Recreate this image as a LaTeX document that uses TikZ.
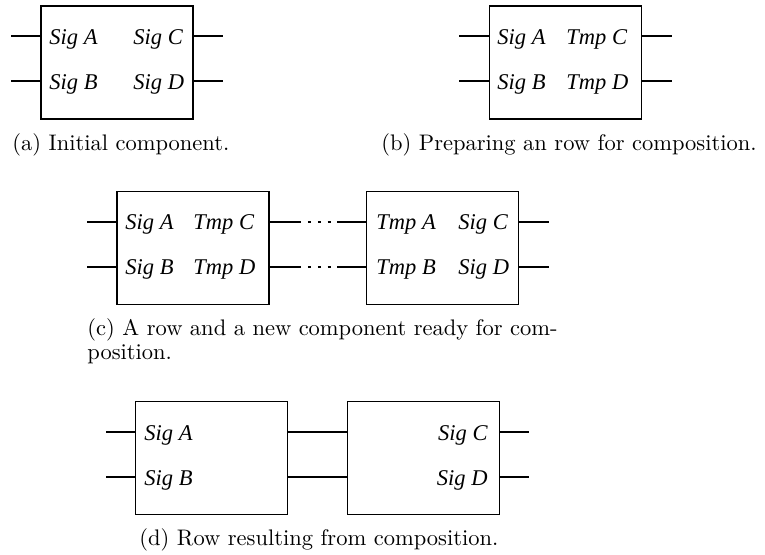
\documentclass[tikz,border=0pt]{standalone}
\usepackage{fontspec}
\newfontfamily\lblfont{Liberation Serif}
\tikzset{
  x=0.4444pt, y=-0.4444pt,
  comp/.style={draw, line width=0.5pt, rectangle, inner sep=0pt,
    minimum width={152*0.4444pt}, minimum height={113*0.4444pt}},
  wire/.style={line width=0.5pt},
  dotwire/.style={line width=0.5pt, dash pattern=on 1.4pt off 3pt},
  lbl/.style={inner sep=0pt, font=\lblfont\itshape\fontsize{10}{12}\selectfont},
  captext/.style={inner sep=0pt, font=\fontsize{10}{12}\selectfont}
}
\begin{document}
\begin{tikzpicture}
\useasboundingbox (0,0) rectangle (765,554);
% ---------- (a) ----------
\node[comp] (a) at (117,62.5) {};
\coordinate (aA) at (11,36);  \coordinate (aB) at (11,81);
\coordinate (aC) at (223,36); \coordinate (aD) at (223,81);
\draw[wire] (aA) -- (a.west |- aA);
\draw[wire] (aB) -- (a.west |- aB);
\draw[wire] (a.east |- aC) -- (aC);
\draw[wire] (a.east |- aD) -- (aD);
\node[lbl, anchor=base west] (aSA) at (49,44) {Sig A};
\node[lbl, anchor=base west] (aSB) at (49,89) {Sig B};
\node[lbl, anchor=base west] (aSC) at (133,44) {Sig C};
\node[lbl, anchor=base west] (aSD) at (133,89) {Sig D};
\node[captext, anchor=base west] (capa) at (12,150) {(a) Initial component.};
% ---------- (b) ----------
\node[comp] (b) at (565.5,62.5) {};
\coordinate (bA) at (459,36);  \coordinate (bB) at (459,81);
\coordinate (bC) at (672,36); \coordinate (bD) at (672,81);
\draw[wire] (bA) -- (b.west |- bA);
\draw[wire] (bB) -- (b.west |- bB);
\draw[wire] (b.east |- bC) -- (bC);
\draw[wire] (b.east |- bD) -- (bD);
\node[lbl, anchor=base west] (bSA) at (497,44) {Sig A};
\node[lbl, anchor=base west] (bSB) at (497,89) {Sig B};
\node[lbl, anchor=base west] (bTC) at (566,44) {Tmp C};
\node[lbl, anchor=base west] (bTD) at (566,89) {Tmp D};
\node[captext, anchor=base west] (capb) at (381,150) {(b) Preparing an row for composition.};
% ---------- (c) ----------
\node[comp] (c1) at (193,248) {};
\node[comp] (c2) at (442.5,248) {};
\coordinate (cA) at (87,222);  \coordinate (cB) at (87,267);
\coordinate (cC) at (549,222); \coordinate (cD) at (549,267);
\coordinate (cu1) at (298,222); \coordinate (cu2) at (337,222);
\coordinate (cl1) at (298,267); \coordinate (cl2) at (337,267);
\draw[wire] (cA) -- (c1.west |- cA);
\draw[wire] (cB) -- (c1.west |- cB);
\draw[wire] (c2.east |- cC) -- (cC);
\draw[wire] (c2.east |- cD) -- (cD);
\draw[wire] (c1.east |- cu1) -- (cu1);
\draw[dotwire] (cu1) -- (cu2);
\draw[wire] (cu2) -- (c2.west |- cu2);
\draw[wire] (c1.east |- cl1) -- (cl1);
\draw[dotwire] (cl1) -- (cl2);
\draw[wire] (cl2) -- (c2.west |- cl2);
\node[lbl, anchor=base west] (cSA) at (125,229.5) {Sig A};
\node[lbl, anchor=base west] (cSB) at (125,274.5) {Sig B};
\node[lbl, anchor=base west] (cTC) at (193,229.5) {Tmp C};
\node[lbl, anchor=base west] (cTD) at (193,274.5) {Tmp D};
\node[lbl, anchor=base west] (cTA) at (376,229.5) {Tmp A};
\node[lbl, anchor=base west] (cTB) at (376,274.5) {Tmp B};
\node[lbl, anchor=base west] (cSC) at (458,229.5) {Sig C};
\node[lbl, anchor=base west] (cSD) at (458,274.5) {Sig D};
\node[captext, anchor=north west, align=left, font=\fontsize{10}{10.3}\selectfont] (capc) at (87,318.5)
  {(c) A row and a new component ready for com-\\position.};
% ---------- (d) ----------
\node[comp] (d1) at (211.5,458) {};
\node[comp] (d2) at (423.5,458) {};
\coordinate (dA) at (106,432);  \coordinate (dB) at (106,477);
\coordinate (dC) at (529,432); \coordinate (dD) at (529,477);
\draw[wire] (dA) -- (d1.west |- dA);
\draw[wire] (dB) -- (d1.west |- dB);
\draw[wire] (d2.east |- dC) -- (dC);
\draw[wire] (d2.east |- dD) -- (dD);
\draw[wire] (d1.east |- dA) -- (d2.west |- dA);
\draw[wire] (d1.east |- dB) -- (d2.west |- dB);
\node[lbl, anchor=base west] (dSA) at (144,440) {Sig A};
\node[lbl, anchor=base west] (dSB) at (144,485) {Sig B};
\node[lbl, anchor=base east] (dSC) at (488,440) {Sig C};
\node[lbl, anchor=base east] (dSD) at (488,485) {Sig D};
\node[captext, anchor=base west] (capd) at (139,545) {(d) Row resulting from composition.};
\end{tikzpicture}
\end{document}
